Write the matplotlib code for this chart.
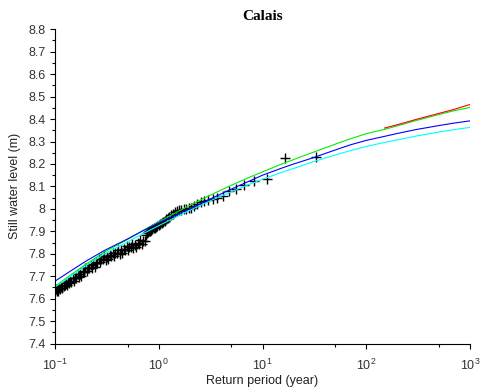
import numpy as np
import matplotlib
matplotlib.use("Agg")
import matplotlib.pyplot as plt
from matplotlib.ticker import FixedLocator, FuncFormatter, MultipleLocator

plt.rcParams['font.family'] = ['Liberation Sans', 'DejaVu Sans']
plt.rcParams['mathtext.fontset'] = 'custom'
plt.rcParams['mathtext.rm'] = 'Liberation Sans'
plt.rcParams['mathtext.it'] = 'Liberation Sans'

# observed levels (empirical return period, year / still water level, m)
obs_period = [
    0.100, 0.102, 0.104, 0.106, 0.108, 0.110, 0.112, 0.115, 0.118, 0.121,
    0.124, 0.127, 0.130, 0.133, 0.136, 0.140, 0.144, 0.148, 0.152, 0.156,
    0.160, 0.165, 0.170, 0.175, 0.180, 0.185, 0.190, 0.196, 0.202, 0.208,
    0.214, 0.220, 0.227, 0.234, 0.241, 0.248, 0.256, 0.264, 0.272, 0.280,
    0.289, 0.298, 0.307, 0.317, 0.327, 0.337, 0.348, 0.359, 0.370, 0.382,
    0.394, 0.406, 0.419, 0.432, 0.446, 0.460, 0.474, 0.489, 0.504, 0.520,
    0.536, 0.553, 0.570, 0.588, 0.606, 0.625, 0.645, 0.665, 0.686, 0.708,
    0.730,
    0.750, 0.767, 0.786, 0.805, 0.825, 0.846, 0.868, 0.892, 0.917, 0.943,
    0.971, 1.000, 1.031, 1.065, 1.100, 1.138, 1.179, 1.222, 1.269, 1.320,
    1.375, 1.435, 1.500, 1.571, 1.650, 1.737, 1.833, 1.941, 2.063, 2.200,
    2.357, 2.538, 2.750, 3.000, 3.300, 3.667, 4.125, 4.714, 5.500, 6.600,
    8.250, 11.00, 16.50, 33.00]
obs_level = [
    7.635, 7.643, 7.634, 7.643, 7.636, 7.649, 7.645, 7.657, 7.649, 7.658,
    7.660, 7.670, 7.663, 7.673, 7.668, 7.680, 7.673, 7.693, 7.679, 7.693,
    7.694, 7.709, 7.695, 7.712, 7.701, 7.724, 7.717, 7.737, 7.723, 7.737,
    7.738, 7.752, 7.738, 7.754, 7.743, 7.765, 7.758, 7.776, 7.762, 7.775,
    7.775, 7.788, 7.773, 7.787, 7.775, 7.796, 7.788, 7.805, 7.790, 7.803,
    7.803, 7.815, 7.800, 7.815, 7.803, 7.823, 7.815, 7.833, 7.817, 7.830,
    7.830, 7.842, 7.827, 7.841, 7.829, 7.850, 7.842, 7.860, 7.845, 7.858,
    7.859,
    7.885, 7.892, 7.896, 7.900, 7.903, 7.906, 7.910, 7.913, 7.916, 7.920,
    7.924, 7.928, 7.932, 7.937, 7.942, 7.948, 7.954, 7.960, 7.966, 7.972,
    7.978, 7.984, 7.990, 7.994, 7.997, 7.999, 8.001, 8.003, 8.006, 8.012,
    8.020, 8.030, 8.034, 8.038, 8.042, 8.048, 8.057, 8.078, 8.090, 8.107,
    8.123, 8.133, 8.226, 8.230]

# fitted return level curves
fit_period = [0.1, 0.15, 0.2, 0.3, 0.5, 0.7, 1, 1.5, 2, 3, 5, 7, 10, 15,
              20, 30, 50, 70, 100, 150, 200, 300, 500, 700, 1000]
green_level = [7.655, 7.714, 7.755, 7.808, 7.864, 7.903, 7.942, 7.986,
               8.016, 8.057, 8.105, 8.135, 8.165, 8.198, 8.220, 8.250,
               8.288, 8.312, 8.335, 8.354, 8.370, 8.393, 8.420, 8.437,
               8.452]
blue_level = [7.678, 7.731, 7.768, 7.815, 7.866, 7.902, 7.938, 7.975,
              8.000, 8.040, 8.088, 8.118, 8.150, 8.180, 8.200, 8.226,
              8.262, 8.285, 8.305, 8.323, 8.336, 8.353, 8.371, 8.382,
              8.392]
cyan_level = [7.652, 7.708, 7.748, 7.800, 7.853, 7.889, 7.925, 7.966,
              7.994, 8.032, 8.076, 8.104, 8.132, 8.161, 8.180, 8.208,
              8.240, 8.259, 8.278, 8.296, 8.307, 8.324, 8.342, 8.353,
              8.363]
red_period = [150, 200, 300, 500, 700, 1000]
red_level = [8.360, 8.375, 8.398, 8.425, 8.443, 8.465]

fig = plt.figure(figsize=(4.8, 3.9), dpi=100)
ax = fig.add_axes([0.1146, 0.119, 0.8646, 0.806])

ax.plot(obs_period, obs_level, '+', color='black', ms=6.5, mew=1.0)
ax.plot(fit_period, green_level, color='#00ee00', lw=0.8)
ax.plot(fit_period, blue_level, color='#0000ff', lw=0.8)
ax.plot(fit_period, cyan_level, color='#00ffff', lw=0.8)
ax.plot(red_period, red_level, color='#ff0000', lw=0.8)

ax.set_xscale('log')
ax.set_xlim(0.1, 1000)
ax.set_ylim(7.4, 8.8)

ax.xaxis.set_major_locator(FixedLocator([0.1, 1, 10, 100, 1000]))
ax.xaxis.set_minor_locator(FixedLocator([0.5, 5, 50, 500]))
ax.xaxis.set_major_formatter(FuncFormatter(
    lambda v, p: r'$\mathregular{10^{%d}}$' % round(np.log10(v))))
ax.xaxis.set_minor_formatter(FuncFormatter(lambda v, p: ''))
ax.yaxis.set_major_locator(MultipleLocator(0.1))
ax.yaxis.set_minor_locator(MultipleLocator(0.05))
ax.yaxis.set_major_formatter(FuncFormatter(lambda v, p: '%g' % round(v, 1)))

for s in ['top', 'right']:
    ax.spines[s].set_visible(False)
for s in ['left', 'bottom']:
    ax.spines[s].set_linewidth(0.8)

ax.tick_params(which='major', length=3.5, width=0.8, labelsize=9,
               labelcolor='#333333')
ax.tick_params(which='minor', length=2, width=0.8)
ax.tick_params(axis='x', which='major', pad=7)

ax.set_xlabel('Return period (year)', fontsize=9, color='#222222', labelpad=1)
ax.set_ylabel('Still water level (m)', fontsize=9, color='#222222', labelpad=5)
ax.set_title('Calais', fontsize=11, fontweight='bold',
             family=['Liberation Serif', 'DejaVu Serif'], pad=7)

fig.savefig('out.png', dpi=100)
